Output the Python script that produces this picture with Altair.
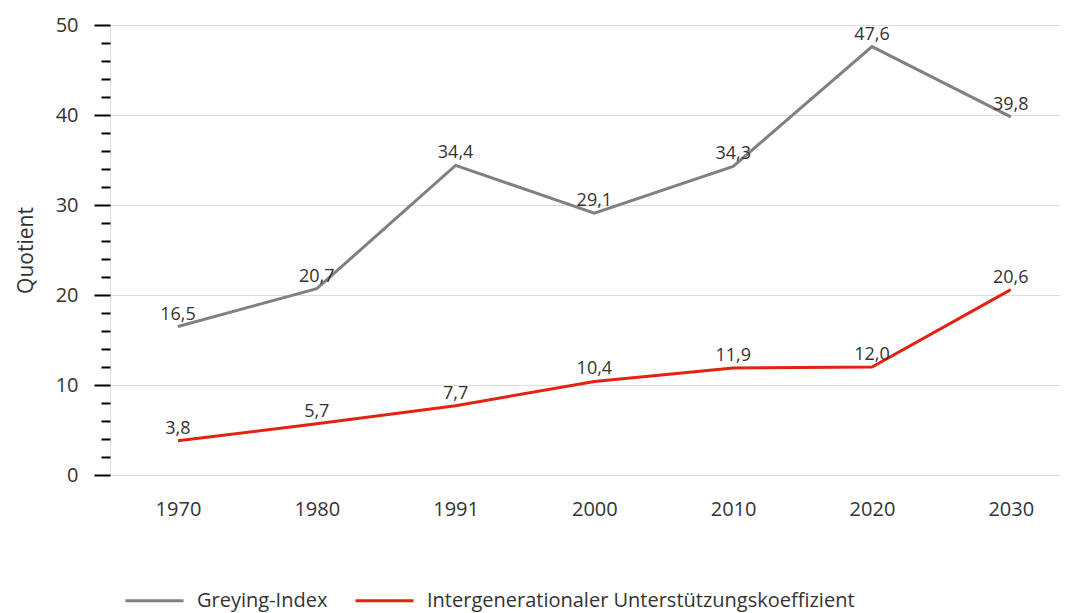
import altair as alt
import pandas as pd

years = ["1970", "1980", "1991", "2000", "2010", "2020", "2030"]
greying = [16.5, 20.7, 34.4, 29.1, 34.3, 47.6, 39.8]
support = [3.8, 5.7, 7.7, 10.4, 11.9, 12.0, 20.6]
series_names = ["Greying-Index", "Intergenerationaler Unterstützungskoeffizient"]
series_colors = ["#808080", "#e2230f"]
y_ticks = list(range(0, 51, 2))

rows = []
for y, g, s in zip(years, greying, support):
    rows.append({"Jahr": y, "Wert": g, "Serie": series_names[0],
                 "Label": f"{g:.1f}".replace(".", ",")})
    rows.append({"Jahr": y, "Wert": s, "Serie": series_names[1],
                 "Label": f"{s:.1f}".replace(".", ",")})
df = pd.DataFrame(rows)

FONT = "Open Sans"
TXT = "#333333"

x_enc = alt.X("Jahr:N", sort=years,
              scale=alt.Scale(type="point", padding=0.422, align=0.58),
              axis=alt.Axis(title=None, ticks=False, domain=False, grid=False,
                            labelAngle=0, labelFont=FONT, labelFontSize=20,
                            labelColor=TXT, labelPadding=24))
y_enc = alt.Y("Wert:Q",
              scale=alt.Scale(domain=[0, 50], nice=False, zero=True),
              axis=alt.Axis(title="Quotient", values=y_ticks, domain=False,
                            tickColor="#000000", tickWidth=2,
                            tickSize={"condition": {"test": "datum.value % 10 === 0", "value": 16}, "value": 9},
                            labelExpr="datum.value % 10 === 0 ? datum.label : ''",
                            labelFont=FONT, labelFontSize=20, labelColor=TXT,
                            labelPadding=16,
                            gridColor="#dddddd", gridWidth=1.2,
                            gridOpacity={"condition": {"test": "datum.value % 10 === 0 && datum.value > 0", "value": 1}, "value": 0},
                            titleFont=FONT, titleFontSize=21, titleFontWeight="normal",
                            titleColor=TXT, titlePadding=19))

color_enc = alt.Color("Serie:N", sort=series_names,
                      scale=alt.Scale(domain=series_names, range=series_colors),
                      legend=alt.Legend(title=None, orient="none", direction="horizontal",
                                        legendX=14, legendY=545,
                                        symbolType="stroke", symbolSize=3364,
                                        symbolStrokeWidth=3, labelFont=FONT,
                                        labelFontSize=20, labelColor=TXT,
                                        labelOffset=12, columnPadding=21,
                                        labelLimit=700))

base = alt.Chart(df).encode(x=x_enc, y=y_enc)
lines = base.mark_line(strokeWidth=3).encode(color=color_enc)
labels = base.mark_text(font=FONT, fontSize=18, color=TXT, baseline="bottom",
                        dy=-3).encode(text="Label:N")

chart = (alt.layer(lines, labels)
         .properties(width=950, height=450,
                     autosize=alt.AutoSizeParams(type="none"),
                     padding={"left": 102, "top": 17, "right": 0, "bottom": 160})
         .configure_view(stroke=None)
         .configure(background="white"))

chart.save("out.html", embed_options={"renderer": "svg", "actions": False})
